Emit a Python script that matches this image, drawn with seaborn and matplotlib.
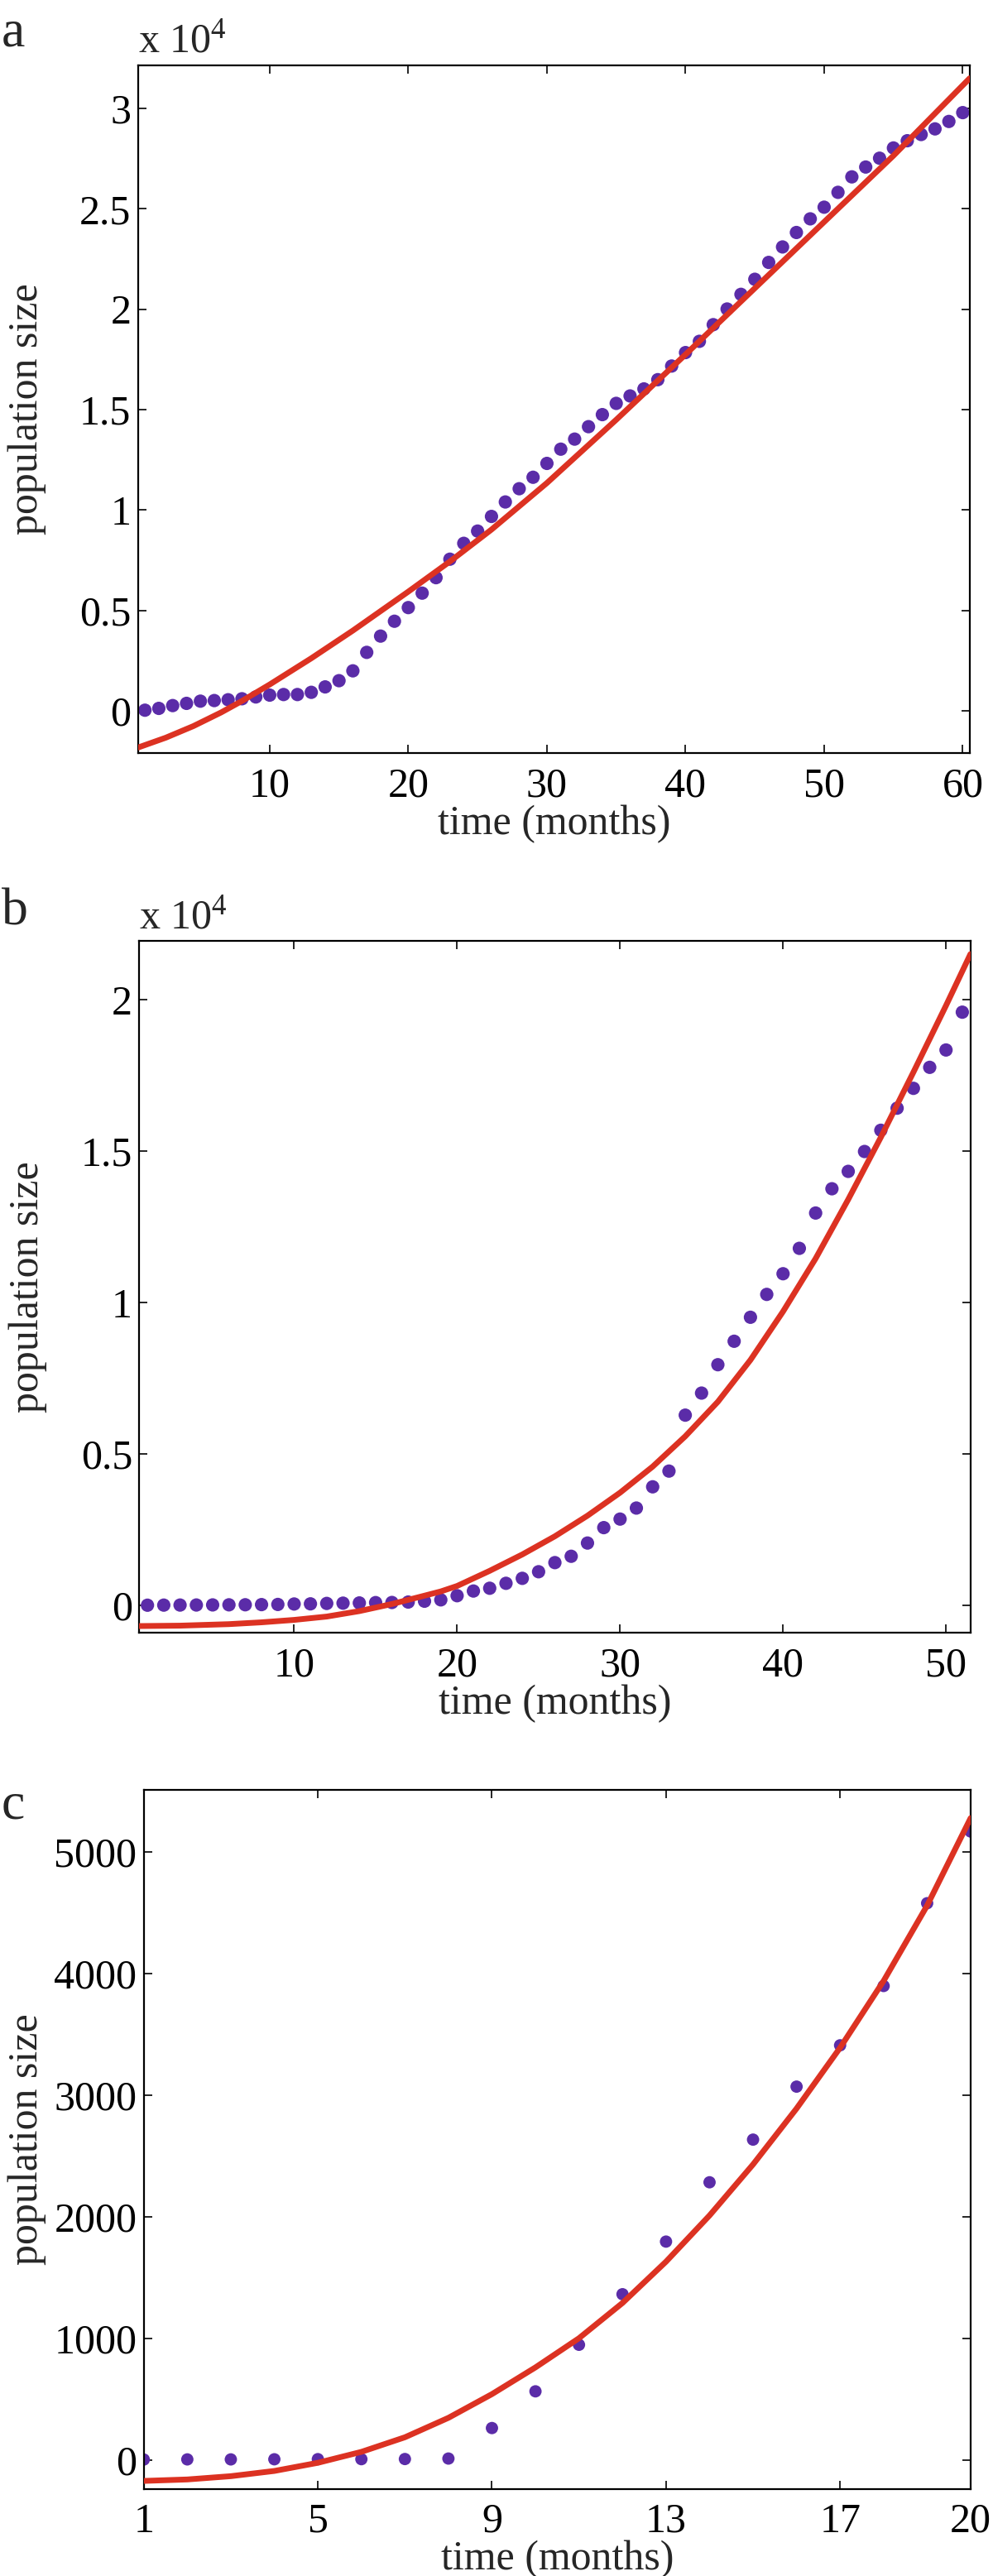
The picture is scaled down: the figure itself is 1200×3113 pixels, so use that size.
import numpy as np
import pandas as pd
import seaborn as sns
import matplotlib.pyplot as plt
from matplotlib.ticker import FuncFormatter

# panel a - monthly counts
months_a = list(range(1, 61))
pop_a = [30, 120, 260, 370, 480, 510, 550, 600, 690, 780, 810, 810, 920, 1190, 1500,
         1990, 2910, 3720, 4460, 5140, 5860, 6630, 7550, 8340, 8950, 9680, 10400, 11060,
         11630, 12320, 13030, 13530, 14150, 14750, 15310, 15680, 16030, 16490, 17170,
         17840, 18400, 19230, 20010, 20740, 21490, 22330, 23100, 23820, 24500, 25080,
         25820, 26590, 27080, 27520, 28030, 28390, 28700, 28980, 29350, 29790]
fit_a_t = [0.5, 2.5, 4.5, 6.5, 8, 10, 13, 16, 20, 23, 26, 30, 35, 40, 45, 50, 55, 60.5]
fit_a_y = [-1830, -1340, -760, -80, 490, 1310, 2615, 3995, 5935, 7435, 9025, 11345,
           14495, 17745, 21045, 24345, 27645, 31500]

# panel b
months_b = list(range(1, 52))
pop_b = [5, 8, 10, 12, 15, 18, 20, 25, 30, 45, 50, 64, 73, 80, 91, 95, 109, 137, 182,
         319, 473, 565, 728, 892, 1110, 1411, 1620, 2057, 2566, 2848, 3212, 3913, 4432,
         6279, 7007, 7944, 8718, 9510, 10265, 10947, 11785, 12951, 13752, 14326, 14982,
         15683, 16412, 17067, 17760, 18333, 19581]
fit_b_t = [0.5, 3, 6, 8, 10, 12, 14, 15, 16, 17, 18, 19, 20, 22, 24, 26, 28, 30, 32,
           34, 36, 38, 40, 42, 44, 46, 48, 50, 51.5]
fit_b_y = [-683, -670, -620, -560, -480, -370, -190, -73, 45, 182, 320, 460, 640, 1140,
           1680, 2280, 2960, 3720, 4580, 5580, 6720, 8100, 9700, 11450, 13400, 15450,
           17600, 19800, 21500]

# panel c
months_c = list(range(1, 21))
pop_c = [2, 3, 3, 4, 5, 5, 6, 10, 261, 563, 946, 1362, 1795, 2283, 2634, 3070, 3410,
         3898, 4579, 5169]
fit_c_t = list(range(1, 21))
fit_c_y = [-174, -162, -135, -92, -25, 65, 185, 345, 540, 760, 1000, 1290, 1630, 2010,
           2430, 2890, 3390, 3940, 4560, 5280]

dot_col = '#5b2ca8'
line_col = '#dc3222'

sns.set_theme(style='ticks')
plt.rcParams['font.family'] = ['Liberation Serif', 'DejaVu Serif']
plt.rcParams['mathtext.fontset'] = 'custom'
plt.rcParams['mathtext.rm'] = 'Liberation Serif'

fig = plt.figure(figsize=(12, 31.13), dpi=100)
ax_a = fig.add_axes([0.139, 0.7077, 0.8375, 0.2669])
ax_b = fig.add_axes([0.1403, 0.3661, 0.837, 0.2686])
ax_c = fig.add_axes([0.1448, 0.0338, 0.8327, 0.2713])


def draw(ax, t, pop, ft, fy, dot_size):
    sns.scatterplot(x=t, y=pop, ax=ax, color=dot_col, s=dot_size, edgecolor='none',
                    linewidth=0, zorder=2)
    sns.lineplot(x=ft, y=fy, ax=ax, color=line_col, lw=5, estimator=None, zorder=3)


def style(ax, xlim, ylim, xt, yt, sci):
    ax.set_xlim(*xlim)
    ax.set_ylim(*ylim)
    ax.set_xticks(xt)
    ax.set_yticks(yt)
    if sci:
        ax.yaxis.set_major_formatter(FuncFormatter(lambda v, p: f'{v / 1e4:g}'))
        ax.text(0.0, 1.006, r'x $\mathregular{10^4}$', transform=ax.transAxes,
                ha='left', va='bottom', fontsize=36)
    for sp in ax.spines.values():
        sp.set_visible(True)
        sp.set_color('black')
        sp.set_linewidth(1.6)
    ax.tick_params(axis='both', direction='in', top=True, right=True, length=7,
                   width=1.2, labelsize=36, colors='black')
    ax.tick_params(axis='x', pad=12)
    ax.tick_params(axis='y', pad=6)
    ax.set_xlabel('time (months)', fontsize=36)
    ax.set_ylabel('population size', fontsize=36)


draw(ax_a, months_a, pop_a, fit_a_t, fit_a_y, 135)
style(ax_a, (0.5, 60.5), (-2100, 32140), [10, 20, 30, 40, 50, 60],
      [0, 5000, 10000, 15000, 20000, 25000, 30000], True)
ax_a.xaxis.set_label_coords(0.5, -0.076)
ax_a.yaxis.set_label_coords(-0.110, 0.5)

draw(ax_b, months_b, pop_b, fit_b_t, fit_b_y, 135)
style(ax_b, (0.5, 51.5), (-910, 21930), [10, 20, 30, 40, 50],
      [0, 5000, 10000, 15000, 20000], True)
ax_b.xaxis.set_label_coords(0.5, -0.074)
ax_b.yaxis.set_label_coords(-0.111, 0.5)

draw(ax_c, months_c, pop_c, fit_c_t, fit_c_y, 115)
style(ax_c, (1, 20), (-240, 5510), [1, 5, 9, 13, 17, 20],
      [0, 1000, 2000, 3000, 4000, 5000], False)
ax_c.xaxis.set_label_coords(0.5, -0.073)
ax_c.yaxis.set_label_coords(-0.118, 0.5)

for lab, yb in [('a', 55), ('b', 1118), ('c', 2198)]:
    fig.text(2 / 1200, 1 - yb / 3113, lab, ha='left', va='baseline', fontsize=46)

fig.savefig('out.png', dpi=100)
